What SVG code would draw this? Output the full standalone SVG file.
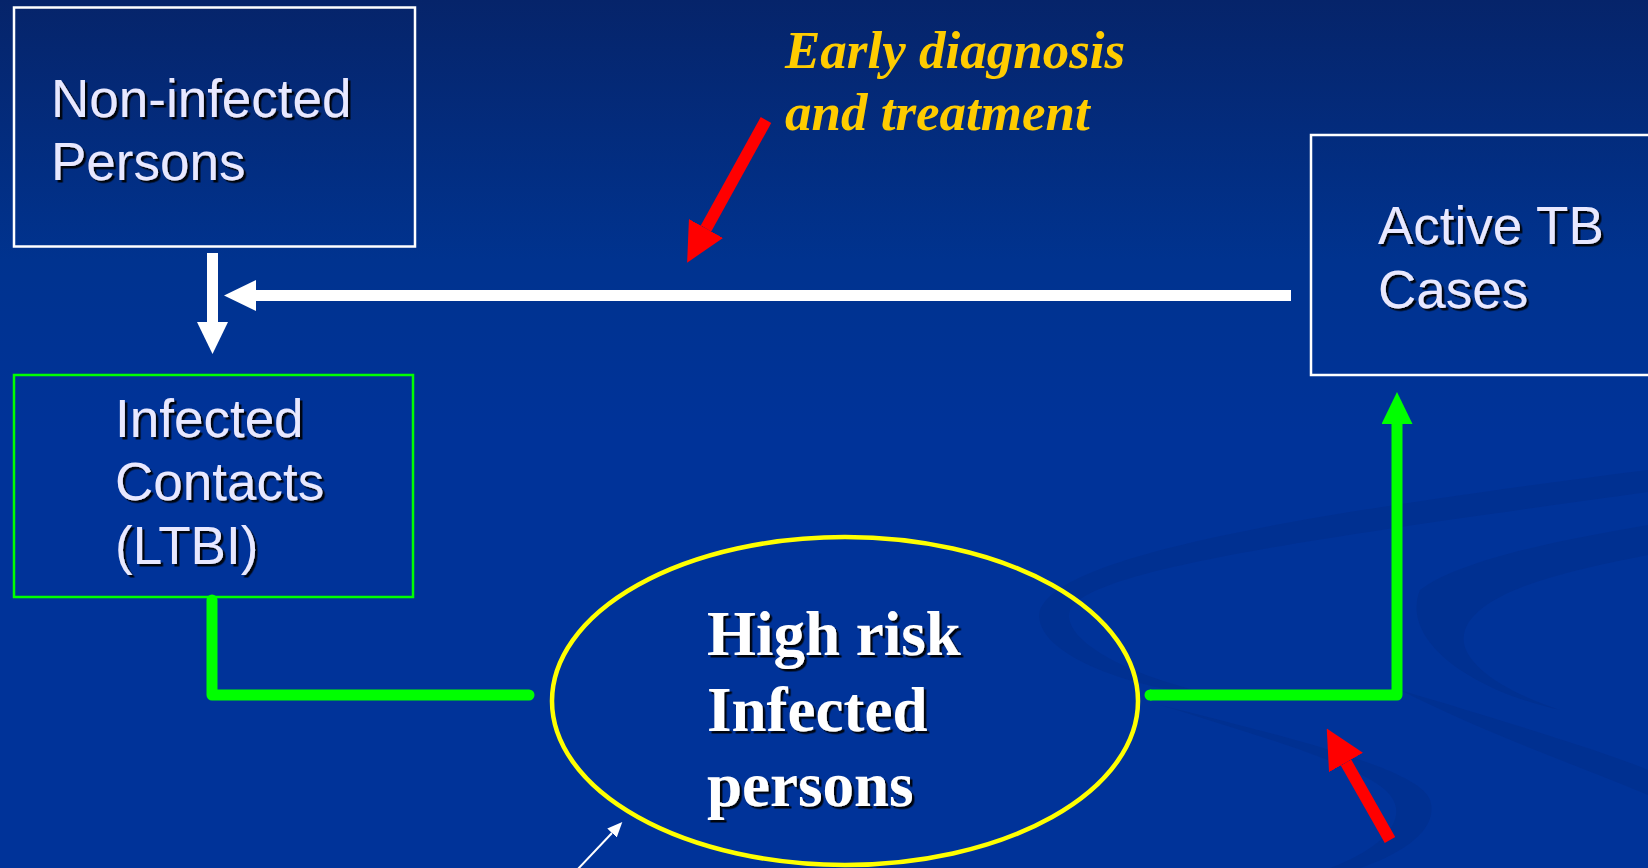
<svg xmlns="http://www.w3.org/2000/svg" width="1648" height="868" viewBox="0 0 1648 868">
  <defs>
    <linearGradient id="bg" x1="0" y1="0" x2="0" y2="1">
      <stop offset="0" stop-color="#06246A"/>
      <stop offset="0.3" stop-color="#00338F"/>
      <stop offset="0.5" stop-color="#003399"/>
      <stop offset="1" stop-color="#003399"/>
    </linearGradient>
    <filter id="shadow" x="-5%" y="-5%" width="115%" height="130%">
      <feDropShadow dx="2.5" dy="2.5" stdDeviation="0.3" flood-color="#000000" flood-opacity="0.9"/>
    </filter>
    <marker id="headW" markerUnits="userSpaceOnUse" markerWidth="32" markerHeight="31" refX="0" refY="15.5" orient="auto">
      <path d="M0,0 L32,15.5 L0,31 z" fill="#FFFFFF"/>
    </marker>
    <marker id="headG" markerUnits="userSpaceOnUse" markerWidth="32" markerHeight="31" refX="0" refY="15.5" orient="auto">
      <path d="M0,0 L32,15.5 L0,31 z" fill="#00FF00"/>
    </marker>
    <marker id="headR" markerUnits="userSpaceOnUse" markerWidth="39" markerHeight="39" refX="0" refY="19.5" orient="auto">
      <path d="M0,0 L39,19.5 L0,39 z" fill="#FF0000"/>
    </marker>
    <marker id="headS" markerUnits="userSpaceOnUse" markerWidth="15" markerHeight="13" refX="0" refY="6.5" orient="auto">
      <path d="M0,0 L15,6.5 L0,13 z" fill="#FFFFFF"/>
    </marker>
    <style>
      .box { fill: none; stroke-width: 2.5; }
      .wbox { stroke: #FFFFFF; }
      .gbox { stroke: #00FF00; }
      .lbl { font-family: "Liberation Sans", Arial, sans-serif; font-size: 53px; fill: #E8E8FF; filter: url(#shadow); }
      .big { font-family: "Liberation Serif", "Times New Roman", serif; font-weight: bold; font-size: 63px; fill: #FFFFFF; filter: url(#shadow); }
      .note { font-family: "Liberation Serif", "Times New Roman", serif; font-weight: bold; font-style: italic; font-size: 53px; fill: #FFCC00; }
      .wline { stroke: #FFFFFF; stroke-width: 11; fill: none; }
      .gline { stroke: #00FF00; stroke-width: 11; fill: none; stroke-linejoin: round; }
      .rline { stroke: #FF0000; stroke-width: 12; fill: none; }
      .swoosh { fill: #002F8E; opacity: 0.8; }
    </style>
  </defs>

  <rect x="0" y="0" width="1648" height="868" fill="url(#bg)"/>

  <g id="background-swooshes">
    <path class="swoosh" d="M1040,610 C1060,560 1250,520 1648,470 L1648,492 C1300,540 1090,570 1070,610 C1060,640 1130,680 1240,700 C1120,690 1030,650 1040,610 z"/>
    <path class="swoosh" d="M1420,590 C1460,560 1560,540 1648,525 L1648,555 C1570,570 1480,590 1465,630 C1455,660 1500,690 1560,710 C1470,690 1400,640 1420,590 z"/>
    <path class="swoosh" d="M1160,705 C1300,740 1420,770 1430,800 C1440,830 1400,855 1360,868 L1330,868 C1380,850 1410,820 1390,795 C1370,770 1290,745 1160,705 z"/>
    <path class="swoosh" d="M1400,690 C1500,720 1600,750 1648,770 L1648,795 C1590,770 1500,740 1400,690 z"/>
  </g>

  <g id="connectors">
    <line class="wline" x1="1291" y1="295.5" x2="256" y2="295.5" marker-end="url(#headW)"/>
    <line class="wline" x1="212.5" y1="253" x2="212.5" y2="322" marker-end="url(#headW)"/>
    <polyline class="gline" stroke-linecap="round" points="212,600 212,695 529,695"/>
    <polyline class="gline" points="1150,695 1397,695 1397,424" marker-end="url(#headG)"/>
    <circle cx="1150" cy="695" r="5.5" fill="#00FF00"/>
    <line class="rline" x1="766" y1="120" x2="706" y2="228.5" marker-end="url(#headR)"/>
    <line class="rline" x1="1390" y1="840" x2="1346" y2="762.5" marker-end="url(#headR)"/>
    <line x1="577" y1="870" x2="612" y2="833" stroke="#FFFFFF" stroke-width="2" marker-end="url(#headS)"/>
  </g>

  <g id="node-noninfected">
    <rect class="box wbox" x="14" y="7.5" width="401" height="239"/>
    <text class="lbl" x="51" y="117">Non-infected</text>
    <text class="lbl" x="51" y="180">Persons</text>
  </g>

  <g id="node-infected-contacts">
    <rect class="box gbox" x="14" y="375" width="399" height="222"/>
    <text class="lbl" x="115" y="437">Infected</text>
    <text class="lbl" x="115" y="500">Contacts</text>
    <text class="lbl" x="115" y="564">(LTBI)</text>
  </g>

  <g id="node-active-tb">
    <rect class="box wbox" x="1311" y="135" width="360" height="240"/>
    <text class="lbl" x="1378" y="244">Active TB</text>
    <text class="lbl" x="1378" y="308">Cases</text>
  </g>

  <g id="node-high-risk">
    <ellipse cx="845" cy="701" rx="293" ry="164" fill="none" stroke="#FFFF00" stroke-width="4.5"/>
    <text class="big" x="707" y="655">High risk</text>
    <text class="big" x="707" y="731">Infected</text>
    <text class="big" x="707" y="806">persons</text>
  </g>

  <g id="label-early">
    <text class="note" x="785" y="68">Early diagnosis</text>
    <text class="note" x="785" y="130">and treatment</text>
  </g>
</svg>
